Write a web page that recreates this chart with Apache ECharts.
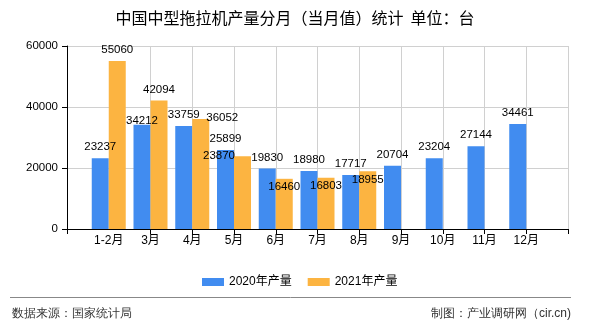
<!DOCTYPE html>
<html>
<head>
<meta charset="utf-8">
<script src="https://cdn.jsdelivr.net/npm/echarts@6/dist/echarts.min.js"></script>
<style>
html,body{margin:0;padding:0;background:#fff;}
#c{width:590px;height:330px;}
</style>
</head>
<body>
<div id="c"></div>
<script>
var titleText = '中国中型拖拉机产量分月（当月值）统计  单位：台';
var categories = ['1-2月','3月','4月','5月','6月','7月','8月','9月','10月','11月','12月'];
var series2020Name = '2020年产量';
var series2021Name = '2021年产量';
var values2020 = [23237, 34212, 33759, 25899, 19830, 18980, 17717, 20704, 23204, 27144, 34461];
var values2021 = [55060, 42094, 36052, 23870, 16460, 16803, 18955];
var yTicks = [0, 20000, 40000, 60000];
var sourceText = '数据来源：国家统计局';
var makerText = '制图：产业调研网（cir.cn)';

// label placement tweaks (style only), keyed by category index
var offsets2020 = {1: [0, 7]};
var offsets2021 = {2: [21.5, 10], 3: [-23.5, 11], 4: [0, 19], 5: [0, 19], 6: [0, 20]};

var numFont = 'Liberation Sans, Arial, sans-serif';
var cjkFont = 'Liberation Sans, Noto Sans CJK SC, sans-serif';

var axisData = [''].concat(categories).concat(['']);
function buildData(vals, offs) {
  var out = [null];
  for (var i = 0; i < categories.length; i++) {
    if (i < vals.length) {
      var item = {value: vals[i]};
      if (offs[i]) item.label = {offset: offs[i]};
      out.push(item);
    } else {
      out.push(null);
    }
  }
  out.push(null);
  return out;
}
var gridShow = function (idx) { return idx !== 1; };

var chart = echarts.init(document.getElementById('c'), null, {renderer: 'canvas'});
chart.setOption({
  animation: false,
  backgroundColor: '#ffffff',
  title: {
    text: titleText, left: 'center', top: 5,
    textStyle: {fontSize: 16, fontWeight: 'normal', color: '#000', fontFamily: 'Noto Sans CJK SC, sans-serif'}
  },
  legend: {
    left: 197, top: 271, itemWidth: 22, itemHeight: 8, itemGap: 16,
    icon: 'rect',
    textStyle: {fontSize: 12, color: '#000', fontFamily: cjkFont},
    data: [series2020Name, series2021Name]
  },
  grid: {left: 67, right: 22, top: 46, bottom: 101, containLabel: false},
  xAxis: {
    type: 'category', boundaryGap: false, data: axisData,
    axisLine: {show: true, lineStyle: {color: '#000', width: 1}},
    axisTick: {show: true, length: 5, interval: gridShow, lineStyle: {color: '#000'}},
    axisLabel: {interval: 0, margin: 6, fontSize: 12, color: '#000', fontFamily: cjkFont},
    splitLine: {show: true, interval: gridShow, lineStyle: {color: '#d0d0d0', width: 1}}
  },
  yAxis: {
    type: 'value', min: yTicks[0], max: yTicks[yTicks.length - 1], interval: yTicks[1] - yTicks[0],
    axisLine: {show: true, lineStyle: {color: '#000', width: 1}},
    axisTick: {show: true, length: 5, lineStyle: {color: '#000'}},
    axisLabel: {margin: 9, fontSize: 11.5, color: '#000', fontFamily: numFont,
      formatter: function (v) { return String(v); }},
    splitLine: {show: true, lineStyle: {color: '#d0d0d0', width: 1}}
  },
  series: [
    {
      name: series2020Name, type: 'bar', barWidth: 17, barGap: '0%',
      itemStyle: {color: '#418CF0'},
      label: {show: true, position: 'top', distance: 5, fontSize: 11.5, color: '#000', fontFamily: numFont},
      data: buildData(values2020, offsets2020)
    },
    {
      name: series2021Name, type: 'bar', barWidth: 17, barGap: '0%',
      itemStyle: {color: '#FCB441'},
      label: {show: true, position: 'top', distance: 5, fontSize: 11.5, color: '#000', fontFamily: numFont},
      data: buildData(values2021, offsets2021)
    }
  ],
  graphic: [
    {type: 'line', shape: {x1: 10, y1: 297.5, x2: 571, y2: 297.5}, style: {stroke: '#888', lineWidth: 1}},
    {type: 'text', left: 12, top: 308, style: {text: sourceText, fontSize: 12, fill: '#333', font: '12px Noto Sans CJK SC'}},
    {type: 'text', right: 19, top: 308, style: {text: makerText, fontSize: 12, fill: '#333', font: '12px Noto Sans CJK SC'}}
  ]
});
</script>
</body>
</html>
